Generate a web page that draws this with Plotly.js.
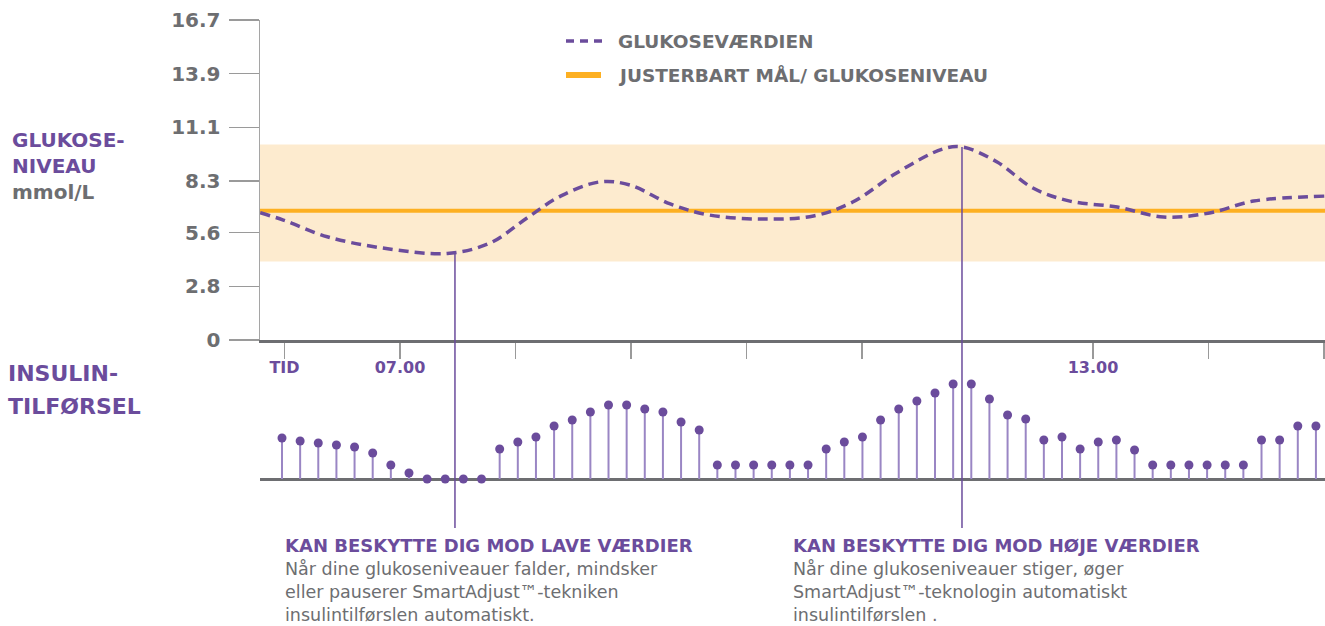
<!DOCTYPE html>
<html><head><meta charset="utf-8">
<script src="https://cdn.plot.ly/plotly-3.0.1.min.js"></script>
<style>html,body{margin:0;padding:0;background:#fff}#chart{width:1325px;height:626px}</style>
</head><body><div id="chart"></div>
<script>
// ---- data ----
const glucoseTime  = [5.79, 5.99, 6.37, 6.85, 7.41, 7.78, 8.10, 8.39, 8.73, 8.99, 9.34, 9.68, 10.14, 10.58, 10.92, 11.30, 11.70, 11.87, 12.17, 12.48, 12.80, 13.21, 13.61, 14.01, 14.39, 15.01];
const glucoseValue = [6.64, 6.26, 5.39, 4.80, 4.52, 5.06, 6.37, 7.51, 8.25, 8.09, 7.10, 6.52, 6.31, 6.47, 7.20, 8.72, 9.97, 10.07, 9.29, 7.93, 7.25, 6.94, 6.42, 6.63, 7.25, 7.51];
const targetLevel = 6.75;
const targetRangeLow = 4.1;
const targetRangeHigh = 10.2;
const insulinDelivery = [41,38,36,34,32,26,14,6,0,0,0,0, 30,37,42,53,59,67,74,74,70,67,57,49, 14,14,14,14,14,14, 30,37,42,59,70,78,86,95, 95,80,64,60,39,42,30,37,39,29, 14,14,14,14,14,14, 39,39,53,53];
const yTickVals = [0, 2.8, 5.6, 8.3, 11.1, 13.9, 16.7];
const yTickText = ['0', '2.8', '5.6', '8.3', '11.1', '13.9', '16.7'];
const xTickVals = [6, 7, 8, 9, 10, 11, 13, 14, 15];
const xTickText = ['TID', '07.00', '', '', '', '', '13.00', '', ''];
const lowEvent  = {time: 7.476, value: 4.52};
const highEvent = {time: 11.866, value: 10.07};
const legendLabels = ['GLUKOSEVÆRDIEN', 'JUSTERBART MÅL/ GLUKOSENIVEAU'];
const yLabelLines = ['GLUKOSE-', 'NIVEAU', 'mmol/L'];
const insulinLabelLines = ['INSULIN-', 'TILFØRSEL'];
const lowTitle = 'KAN BESKYTTE DIG MOD LAVE VÆRDIER';
const lowBody = ['Når dine glukoseniveauer falder, mindsker', 'eller pauserer SmartAdjust™-tekniken', 'insulintilførslen automatiskt.'];
const highTitle = 'KAN BESKYTTE DIG MOD HØJE VÆRDIER';
const highBody = ['Når dine glukoseniveauer stiger, øger', 'SmartAdjust™-teknologin automatiskt', 'insulintilførslen .'];

// ---- style ----
const W = 1325, H = 626;
const PURPLE = '#6b4c9c', STEM = '#9a86c4', GRAY = '#6d6e71', ORANGE = '#fdb022', BAND = '#fdebcf';
const FONT = '"DejaVu Sans", Roboto, sans-serif';
const px = p => p / W;
const py = p => 1 - p / H;
const yDom = [py(340), py(20)];
const yRange = [0, 16.7];
const xRange = [5.788, 15.009];
const y2Dom = [py(481), py(381)];
const insulinIdx = insulinDelivery.map((_, i) => i);

const traces = [
  {
    x: glucoseTime, y: glucoseValue, type: 'scatter', mode: 'lines',
    line: {color: PURPLE, width: 3.5, dash: '10px,6px', shape: 'spline', smoothing: 1},
    xaxis: 'x', yaxis: 'y', showlegend: false, hoverinfo: 'skip'
  },
  {
    x: insulinIdx, y: insulinDelivery, type: 'scatter', mode: 'markers',
    marker: {color: PURPLE, size: 9},
    error_y: {type: 'data', symmetric: false, array: insulinDelivery.map(() => 0), arrayminus: insulinDelivery, color: STEM, thickness: 2, width: 0},
    cliponaxis: false, xaxis: 'x2', yaxis: 'y2', showlegend: false, hoverinfo: 'skip'
  }
];

const yToPaper = v => yDom[0] + (v - yRange[0]) / (yRange[1] - yRange[0]) * (yDom[1] - yDom[0]);

const shapes = [
  {type: 'rect', xref: 'x domain', yref: 'y', x0: 0, x1: 1, y0: targetRangeLow, y1: targetRangeHigh, fillcolor: BAND, line: {width: 0}, layer: 'below'},
  {type: 'line', xref: 'x domain', yref: 'y', x0: 0, x1: 1, y0: targetLevel, y1: targetLevel, line: {color: ORANGE, width: 4}, layer: 'below'},
  {type: 'line', xref: 'x', yref: 'paper', x0: lowEvent.time, x1: lowEvent.time, y0: py(528), y1: yToPaper(lowEvent.value), line: {color: PURPLE, width: 1.5}},
  {type: 'line', xref: 'x', yref: 'paper', x0: highEvent.time, x1: highEvent.time, y0: py(528), y1: yToPaper(highEvent.value), line: {color: PURPLE, width: 1.5}},
  // legend samples
  {type: 'line', xref: 'paper', yref: 'paper', x0: px(566), x1: px(602), y0: py(41), y1: py(41), line: {color: PURPLE, width: 3.5, dash: '8px,6px'}},
  {type: 'line', xref: 'paper', yref: 'paper', x0: px(566), x1: px(601), y0: py(75), y1: py(75), line: {color: ORANGE, width: 6}}
];

const ann = (text, x, y, size, color, bold, extra) => Object.assign({
  xref: 'paper', yref: 'paper', x: px(x), y: py(y), xanchor: 'left', yanchor: 'middle', align: 'left',
  text: bold ? '<b>' + text + '</b>' : text, showarrow: false,
  font: {family: FONT, size: size, color: color}
}, extra || {});

const annotations = [
  ann(legendLabels[0], 616, 41, 18.5, GRAY, true),
  ann(legendLabels[1], 616, 75, 18.5, GRAY, true),
  ann(yLabelLines[0] + '<br>' + yLabelLines[1] + '<br><span style="color:' + GRAY + '">' + yLabelLines[2] + '</span>', 10, 166, 20, PURPLE, true),
  ann(insulinLabelLines[0], 6, 373, 22, PURPLE, true),
  ann(insulinLabelLines[1], 6, 406, 22, PURPLE, true),
  ann(lowTitle, 283, 545, 18, PURPLE, true),
  ann(highTitle, 791, 545, 18, PURPLE, true),
  ann(lowBody.join('<br>'), 283, 556.5, 17.5, GRAY, false, {yanchor: 'top'}),
  ann(highBody.join('<br>'), 791, 556.5, 17.5, GRAY, false, {yanchor: 'top'})
];

const layout = {
  width: W, height: H,
  margin: {l: 0, r: 0, t: 0, b: 0},
  paper_bgcolor: '#fff', plot_bgcolor: 'rgba(0,0,0,0)',
  showlegend: false,
  xaxis: {
    domain: [px(260), 1], range: xRange, anchor: 'y',
    showgrid: false, zeroline: false, showline: true, linecolor: GRAY, linewidth: 3,
    ticks: 'outside', ticklen: 16, tickwidth: 1.5, tickcolor: '#9a9a9a',
    tickmode: 'array', tickvals: xTickVals, ticktext: xTickText, ticklabelstandoff: -5,
    tickfont: {family: FONT, size: 16, color: PURPLE, weight: 'bold'}
  },
  yaxis: {
    domain: yDom, range: yRange, anchor: 'x',
    showgrid: false, zeroline: false, showline: true, linecolor: '#a5a5a5', linewidth: 1.5,
    ticks: 'outside', ticklen: 30, tickwidth: 1.5, tickcolor: '#9a9a9a',
    tickmode: 'array', tickvals: yTickVals, ticktext: yTickText, ticklabelstandoff: 4,
    tickfont: {family: FONT, size: 20, color: GRAY, weight: 'bold'}
  },
  xaxis2: {
    domain: [px(260), 1], range: [-1.213, 57.5], anchor: 'y2',
    showgrid: false, zeroline: false, showline: false, showticklabels: false, ticks: ''
  },
  yaxis2: {
    domain: y2Dom, range: [-2, 98], anchor: 'x2',
    showgrid: false, showline: false, showticklabels: false, ticks: '',
    zeroline: true, zerolinecolor: GRAY, zerolinewidth: 3
  },
  shapes: shapes,
  annotations: annotations
};

Plotly.newPlot('chart', traces, layout, {staticPlot: true, displayModeBar: false});
</script>
</body></html>
